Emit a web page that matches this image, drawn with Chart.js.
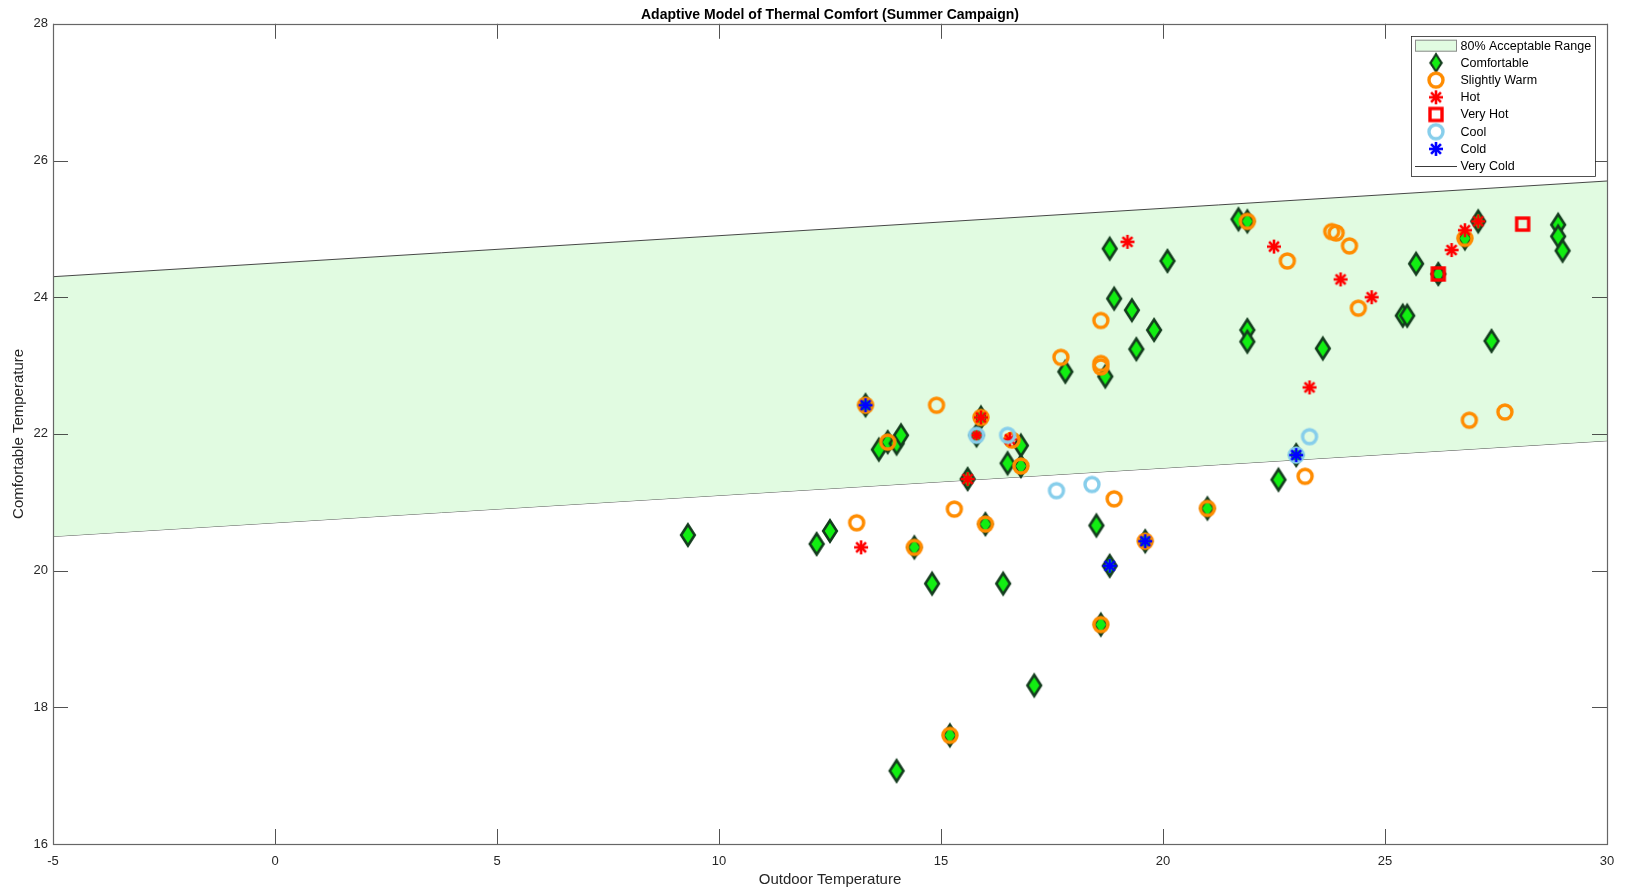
<!DOCTYPE html>
<html>
<head>
<meta charset="utf-8">
<title>Adaptive Model of Thermal Comfort</title>
<script src="https://cdn.jsdelivr.net/npm/chart.js@4.4.1/dist/chart.umd.min.js"></script>
<style>
  html, body { margin: 0; padding: 0; background: #fff; }
  #wrap { width: 1629px; height: 890px; }
</style>
</head>
<body>
<div id="wrap"><canvas id="comfortChart" width="1629" height="890"></canvas></div>
<script>
// acceptable range (two boundary lines)
const bandX = [-5, 30];
const bandLower = [20.5, 21.9];
const bandUpper = [24.3, 25.7];

// [outdoor temp, comfortable temp] per vote category
const comfortable = [
    [9.3, 20.52], [12.2, 20.39], [12.5, 20.58], [13.3, 22.42], [13.6, 21.77], [13.8, 21.88],
    [14.0, 21.86], [14.1, 21.98], [14.4, 20.34], [14.8, 19.81], [14.0, 17.07], [15.2, 17.59],
    [15.6, 21.34], [15.8, 21.98], [15.9, 22.24], [16.0, 20.68], [16.4, 19.81], [16.5, 21.57],
    [16.8, 21.83], [16.8, 21.53], [17.1, 18.32], [17.8, 22.91], [18.5, 20.66], [18.6, 19.21],
    [18.7, 22.84], [18.8, 20.07], [18.8, 24.71], [18.9, 23.98], [19.3, 23.81], [19.4, 23.24],
    [19.6, 20.43], [19.8, 23.52], [20.1, 24.53], [21.0, 20.91], [21.7, 25.14], [21.9, 25.11],
    [21.9, 23.52], [21.9, 23.35], [22.6, 21.33], [23.0, 21.69], [23.6, 23.25], [25.4, 23.73],
    [25.5, 23.73], [25.7, 24.49], [26.2, 24.34], [26.8, 24.86], [27.1, 25.11], [27.4, 23.36],
    [28.9, 25.06], [28.9, 24.89], [29.0, 24.68]
];
const slightlyWarm = [
    [13.1, 20.70], [13.3, 22.42], [13.8, 21.88], [14.4, 20.34], [14.9, 22.42], [15.2, 17.59],
    [15.3, 20.90], [15.9, 22.24], [16.0, 20.68], [16.6, 21.91], [16.8, 21.53], [17.7, 23.12],
    [18.6, 23.66], [18.6, 22.98], [18.6, 23.03], [18.6, 19.21], [18.9, 21.05], [19.6, 20.43],
    [21.0, 20.91], [21.9, 25.11], [22.8, 24.53], [23.2, 21.38], [23.8, 24.96], [23.9, 24.94],
    [24.2, 24.75], [24.4, 23.84], [26.8, 24.86], [26.9, 22.20], [27.7, 22.32]
];
const hot = [
    [13.2, 20.34], [15.6, 21.34], [15.8, 21.98], [15.9, 22.24], [16.55, 21.92], [19.2, 24.81],
    [22.5, 24.74], [23.3, 22.68], [24.0, 24.26], [24.7, 24.00], [26.5, 24.69], [26.8, 24.98],
    [27.1, 25.11]
];
const veryHot = [[26.2, 24.34], [28.1, 25.07]];
const cool = [[15.8, 21.98], [16.5, 21.98], [17.6, 21.17], [18.4, 21.26], [23.0, 21.69], [23.3, 21.96]];
const cold = [[13.3, 22.42], [18.8, 20.07], [19.6, 20.43], [23.0, 21.69]];

const bandColor = '#e1fbe1';
const axisColor = '#262626';
const fontFamily = "'Liberation Sans', Arial, Helvetica, sans-serif";

const pts = (arr) => arr.map(p => ({ x: p[0], y: p[1] }));
const linePts = (xs, ys) => xs.map((x, i) => ({ x: x, y: ys[i] }));

// marker images (MATLAB-like symbols)
function makeMarker(w, h, draw) {
    const c = document.createElement('canvas');
    c.width = w;
    c.height = h;
    draw(c.getContext('2d'), w / 2, h / 2);
    return c;
}

const diamondImg = makeMarker(20, 28, (g, cx, cy) => {
    g.beginPath();
    g.moveTo(cx, cy - 10.5);
    g.lineTo(cx + 6.8, cy);
    g.lineTo(cx, cy + 10.5);
    g.lineTo(cx - 6.8, cy);
    g.closePath();
    g.fillStyle = '#12ee12';
    g.fill();
    g.lineWidth = 2.6;
    g.strokeStyle = '#143c1e';
    g.stroke();
});

function ring(color) {
    return makeMarker(22, 22, (g, cx, cy) => {
        g.beginPath();
        g.arc(cx, cy, 7, 0, Math.PI * 2);
        g.lineWidth = 3.4;
        g.strokeStyle = color;
        g.stroke();
    });
}

function asterisk(color) {
    return makeMarker(20, 20, (g, cx, cy) => {
        g.strokeStyle = color;
        g.lineWidth = 2.6;
        for (let k = 0; k < 4; k++) {
            const a = k * Math.PI / 4;
            g.beginPath();
            g.moveTo(cx - 7 * Math.cos(a), cy - 7 * Math.sin(a));
            g.lineTo(cx + 7 * Math.cos(a), cy + 7 * Math.sin(a));
            g.stroke();
        }
    });
}

const squareImg = makeMarker(20, 20, (g, cx, cy) => {
    g.lineWidth = 3.4;
    g.strokeStyle = '#ff0000';
    g.strokeRect(cx - 6, cy - 6, 12, 12);
});

const warmImg = ring('#ff8c00');
const coolImg = ring('#87ceeb');
const hotImg = asterisk('#ff0000');
const coldImg = asterisk('#0000ff');

function markerSet(label, data, img, order) {
    return {
        label: label,
        data: pts(data),
        pointStyle: img,
        pointRadius: 10,
        showLine: false,
        order: order
    };
}

// inward ticks on all four sides + box
const boxTicks = {
    id: 'boxTicks',
    afterDatasetsDraw(chart) {
        const { ctx, chartArea: a, scales } = chart;
        const len = 15;
        ctx.save();
        ctx.strokeStyle = axisColor;
        ctx.lineWidth = 0.8;
        ctx.beginPath();
        scales.x.ticks.forEach(t => {
            const px = Math.round(scales.x.getPixelForValue(t.value)) + 0.5;
            ctx.moveTo(px, a.bottom); ctx.lineTo(px, a.bottom - len);
            ctx.moveTo(px, a.top); ctx.lineTo(px, a.top + len);
        });
        scales.y.ticks.forEach(t => {
            const py = Math.round(scales.y.getPixelForValue(t.value)) + 0.5;
            ctx.moveTo(a.left, py); ctx.lineTo(a.left + len, py);
            ctx.moveTo(a.right, py); ctx.lineTo(a.right - len, py);
        });
        ctx.stroke();
        ctx.strokeStyle = '#666666';
        ctx.lineWidth = 1.2;
        ctx.strokeRect(Math.round(a.left) + 0.5, Math.round(a.top) + 0.5,
            Math.round(a.right - a.left), Math.round(a.bottom - a.top));
        ctx.restore();
    }
};

// MATLAB style legend box inside the axes, top right
const boxLegend = {
    id: 'boxLegend',
    afterDraw(chart) {
        const ctx = chart.ctx;
        const left = 1411, top = 36, w = 184, h = 140;
        const rowH = 17.2, firstY = 45.7, mx = 1436, tx = 1460.5;
        ctx.save();
        ctx.fillStyle = '#ffffff';
        ctx.fillRect(left, top, w, h);
        ctx.strokeStyle = axisColor;
        ctx.lineWidth = 0.8;
        ctx.strokeRect(left + 0.5, top + 0.5, w, h);

        const items = [
            { label: '80% Acceptable Range', kind: 'rect' },
            { label: 'Comfortable', img: diamondImg },
            { label: 'Slightly Warm', img: warmImg },
            { label: 'Hot', img: hotImg },
            { label: 'Very Hot', img: squareImg },
            { label: 'Cool', img: coolImg },
            { label: 'Cold', img: coldImg },
            { label: 'Very Cold', kind: 'line' }
        ];
        ctx.font = '12.5px ' + fontFamily;
        ctx.textBaseline = 'middle';
        ctx.textAlign = 'left';
        items.forEach((it, i) => {
            const y = firstY + i * rowH;
            if (it.kind === 'rect') {
                ctx.fillStyle = bandColor;
                ctx.fillRect(1415, y - 6, 42, 12);
                ctx.strokeStyle = '#8a8a8a';
                ctx.lineWidth = 1;
                ctx.strokeRect(1415.5, y - 5.5, 41, 11);
            } else if (it.kind === 'line') {
                ctx.strokeStyle = '#222222';
                ctx.lineWidth = 0.9;
                ctx.beginPath();
                ctx.moveTo(1415, Math.round(y) + 0.5);
                ctx.lineTo(1457, Math.round(y) + 0.5);
                ctx.stroke();
            } else {
                const img = it.img;
                const s = img === diamondImg ? 0.82 : 1;
                ctx.drawImage(img, mx - img.width * s / 2, y - img.height * s / 2, img.width * s, img.height * s);
            }
            ctx.fillStyle = '#000000';
            ctx.fillText(it.label, tx, y + 0.5);
        });
        ctx.restore();
    }
};

const ctx = document.getElementById('comfortChart').getContext('2d');

new Chart(ctx, {
    type: 'scatter',
    data: {
        datasets: [
            {
                label: '80% Acceptable Range',
                data: linePts(bandX, bandUpper),
                showLine: true,
                borderColor: '#333333',
                borderWidth: 0.9,
                backgroundColor: bandColor,
                pointRadius: 0,
                fill: 1,
                order: 10
            },
            {
                label: 'Very Cold',
                data: linePts(bandX, bandLower),
                showLine: true,
                borderColor: '#333333',
                borderWidth: 0.9,
                pointRadius: 0,
                fill: false,
                order: 10
            },
            markerSet('Comfortable', comfortable, diamondImg, 6),
            markerSet('Slightly Warm', slightlyWarm, warmImg, 5),
            markerSet('Hot', hot, hotImg, 4),
            markerSet('Very Hot', veryHot, squareImg, 3),
            markerSet('Cool', cool, coolImg, 2),
            markerSet('Cold', cold, coldImg, 1)
        ]
    },
    options: {
        responsive: false,
        animation: false,
        events: [],
        layout: { padding: { left: 0, right: 22, top: 0, bottom: 0 } },
        plugins: {
            legend: { display: false },
            tooltip: { enabled: false },
            title: {
                display: true,
                text: 'Adaptive Model of Thermal Comfort (Summer Campaign)',
                fullSize: false,
                color: '#000000',
                font: { family: fontFamily, size: 14, weight: 'bold' },
                padding: { top: 7, bottom: 0 }
            }
        },
        scales: {
            x: {
                type: 'linear',
                min: -5,
                max: 30,
                ticks: {
                    stepSize: 5,
                    color: axisColor,
                    padding: 10,
                    font: { family: fontFamily, size: 13 }
                },
                grid: { display: false, drawTicks: false },
                border: { display: false },
                title: {
                    display: true,
                    text: 'Outdoor Temperature',
                    color: axisColor,
                    font: { family: fontFamily, size: 15 },
                    padding: { top: 0, bottom: 1 }
                },
                afterFit(scale) { scale.height = 46; }
            },
            y: {
                type: 'linear',
                min: 16,
                max: 28,
                ticks: {
                    stepSize: 2,
                    color: axisColor,
                    padding: 5,
                    font: { family: fontFamily, size: 13 }
                },
                grid: { display: false, drawTicks: false },
                border: { display: false },
                title: {
                    display: true,
                    text: 'Comfortable Temperature',
                    color: axisColor,
                    font: { family: fontFamily, size: 15 },
                    padding: { top: 9.5, bottom: 0 }
                },
                afterFit(scale) { scale.width = 53; }
            }
        }
    },
    plugins: [boxTicks, boxLegend]
});
</script>
</body>
</html>
